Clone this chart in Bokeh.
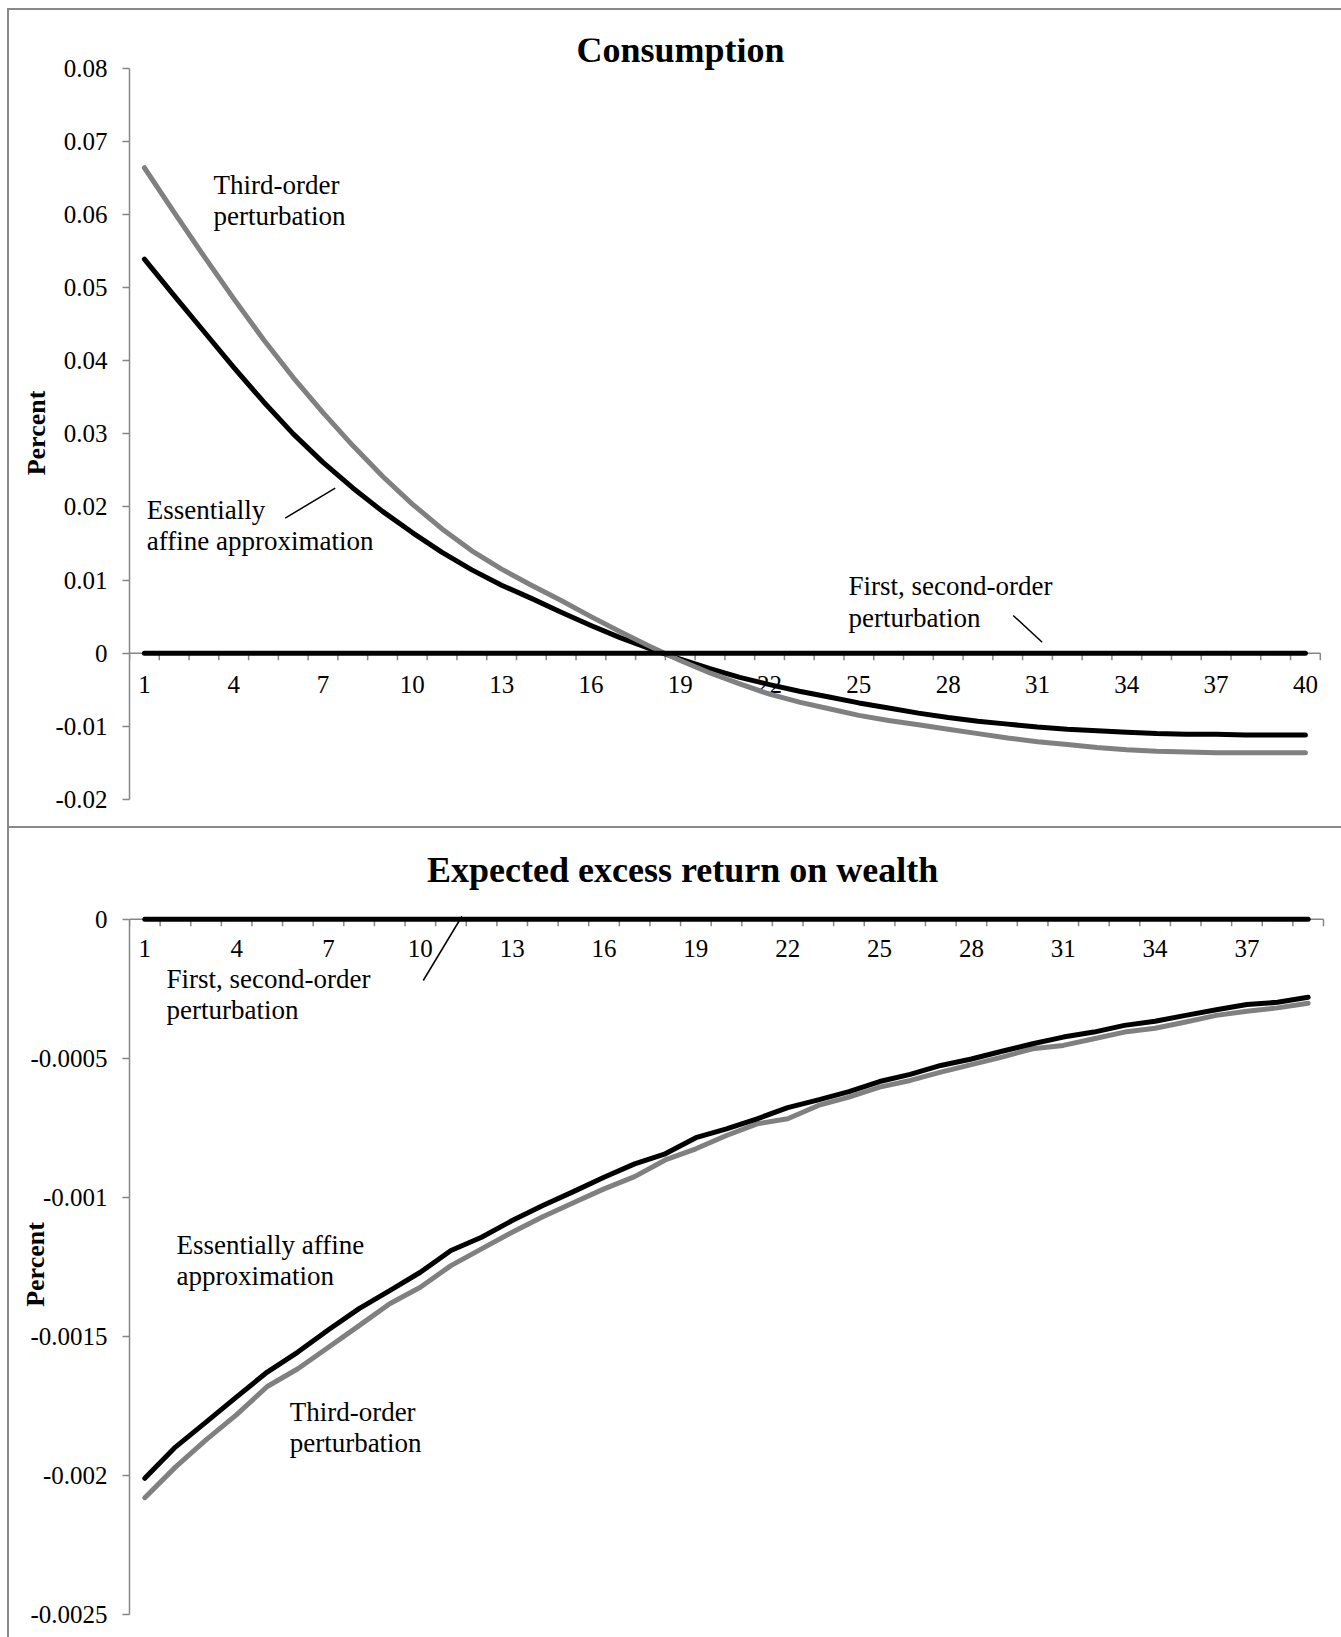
from bokeh.core.properties import value
from bokeh.embed import file_html
from bokeh.layouts import column
from bokeh.models import CustomJSTickFormatter, FixedTicker, Range1d, Title
from bokeh.plotting import figure
from bokeh.resources import INLINE

# ---------------------------------------------------------------------------
# Impulse responses (percent deviation), per period
# ---------------------------------------------------------------------------
periods_consumption = list(range(1, 41))
consumption_affine = [
    0.0539, 0.0489, 0.0440, 0.0391, 0.0344, 0.0300, 0.0261, 0.0226, 0.0194, 0.0165,
    0.0138, 0.0114, 0.0093, 0.0075, 0.0056, 0.0038, 0.0021, 0.0006, -0.0008, -0.0021,
    -0.0033, -0.0043, -0.0052, -0.0060, -0.0068, -0.0075, -0.0082, -0.0088, -0.0093, -0.0097,
    -0.0101, -0.0104, -0.0106, -0.0108, -0.0110, -0.0111, -0.0111, -0.0112, -0.0112, -0.0112,
]
consumption_third = [
    0.0664, 0.0603, 0.0543, 0.0485, 0.0429, 0.0377, 0.0329, 0.0284, 0.0242, 0.0204,
    0.0170, 0.0140, 0.0115, 0.0093, 0.0072, 0.0050, 0.0029, 0.0009, -0.0010, -0.0027,
    -0.0042, -0.0056, -0.0067, -0.0076, -0.0085, -0.0092, -0.0098, -0.0104, -0.0110, -0.0116,
    -0.0121, -0.0125, -0.0129, -0.0132, -0.0134, -0.0135, -0.0136, -0.0136, -0.0136, -0.0136,
]
consumption_first_second = [0.0] * 40

periods_return = list(range(1, 40))
return_affine = [
    -0.002011, -0.001899, -0.001809, -0.001718, -0.001629, -0.001557, -0.001477, -0.001401,
    -0.001336, -0.001270, -0.001192, -0.001144, -0.001084, -0.001030, -0.000980, -0.000928,
    -0.000880, -0.000844, -0.000786, -0.000754, -0.000718, -0.000678, -0.000650, -0.000620,
    -0.000584, -0.000558, -0.000526, -0.000503, -0.000475, -0.000448, -0.000424, -0.000406,
    -0.000382, -0.000367, -0.000346, -0.000326, -0.000307, -0.000299, -0.000281,
]
return_third = [
    -0.002081, -0.001971, -0.001873, -0.001782, -0.001681, -0.001617, -0.001540, -0.001462,
    -0.001383, -0.001324, -0.001246, -0.001186, -0.001126, -0.001070, -0.001020, -0.000970,
    -0.000926, -0.000866, -0.000826, -0.000778, -0.000736, -0.000718, -0.000670, -0.000640,
    -0.000604, -0.000580, -0.000550, -0.000523, -0.000496, -0.000466, -0.000454, -0.000430,
    -0.000406, -0.000392, -0.000370, -0.000346, -0.000331, -0.000319, -0.000302,
]
return_first_second = [0.0] * 39

x_labels_consumption = ["1", "4", "7", "10", "13", "16", "19", "22", "25", "28", "31", "34", "37", "40"]
x_labels_return = ["1", "4", "7", "10", "13", "16", "19", "22", "25", "28", "31", "34", "37"]

y_ticks_consumption = [-0.02, -0.01, 0.0, 0.01, 0.02, 0.03, 0.04, 0.05, 0.06, 0.07, 0.08]
y_labels_consumption = ["-0.02", "-0.01", "0", "0.01", "0.02", "0.03", "0.04", "0.05", "0.06", "0.07", "0.08"]
y_ticks_return = [-0.0025, -0.002, -0.0015, -0.001, -0.0005, 0.0]
y_labels_return = ["-0.0025", "-0.002", "-0.0015", "-0.001", "-0.0005", "0"]

# ---------------------------------------------------------------------------
# Styling
# ---------------------------------------------------------------------------
FONT = "Liberation Serif"
AXIS_GREY = "#868686"
BORDER_GREY = "#898989"
SERIES_GREY = "#808080"
PAGE_W = 1341
PAGE_H = 1637
SPLIT_Y = 827
LINE_W = 5
BASELINE_SHIFT = 0.35  # em fraction to lift text so its baseline lands where asked


class Panel:
    """A chart panel whose category axis crosses the value axis at zero."""

    def __init__(self, height, frame_left, frame_top, cat_px, zero_y, px_per_unit):
        self.height = height
        self.left = frame_left
        self.cat_px = cat_px
        self.zero_y = zero_y
        self.ppu = px_per_unit
        self.p = figure(
            width=PAGE_W, height=height,
            x_range=Range1d(0.5, 0.5 + (PAGE_W - frame_left) / cat_px),
            y_range=Range1d((zero_y - height) / px_per_unit, (zero_y - frame_top) / px_per_unit),
            x_axis_type=None, toolbar_location=None, output_backend="svg",
            min_border_left=frame_left, min_border_right=0,
            min_border_top=frame_top, min_border_bottom=0, title=None,
        )
        p = self.p
        p.outline_line_color = None
        p.background_fill_color = None
        p.border_fill_color = None
        p.ygrid.grid_line_color = None

    # pixel position inside the canvas -> data coordinates
    def cx(self, px):
        return (px - self.left) / self.cat_px + 0.5

    def vy(self, py):
        return (self.zero_y - py) / self.ppu

    def value_axis(self, ticks, labels, title_standoff):
        ax = self.p.yaxis[0]
        ax.ticker = FixedTicker(ticks=ticks)
        ax.formatter = CustomJSTickFormatter(
            args=dict(vals=ticks, labs=labels),
            code="""
                let best = 0, bd = Infinity;
                for (let i = 0; i < vals.length; i++) {
                    const d = Math.abs(vals[i] - tick);
                    if (d < bd) { bd = d; best = i; }
                }
                return labs[best];
            """,
        )
        ax.bounds = (ticks[0], ticks[-1])
        ax.axis_line_color = AXIS_GREY
        ax.axis_line_width = 1.5
        ax.major_tick_line_color = AXIS_GREY
        ax.major_tick_line_width = 1.5
        ax.major_tick_out = 7
        ax.major_tick_in = 0
        ax.minor_tick_line_color = None
        ax.major_label_text_font = FONT
        ax.major_label_text_font_size = "25px"
        ax.major_label_text_color = "black"
        ax.major_label_standoff = 15
        ax.axis_label = "Percent"
        ax.axis_label_text_font = FONT
        ax.axis_label_text_font_style = "bold"
        ax.axis_label_text_font_size = "26px"
        ax.axis_label_text_color = "black"
        ax.axis_label_standoff = title_standoff

    def category_axis(self, n_cats, labels, baseline_gap_px):
        p = self.p
        edges = [k + 0.5 for k in range(n_cats + 1)]
        tick_len = 7 / self.ppu
        p.segment(x0=[edges[0]], y0=[0], x1=[edges[-1]], y1=[0],
                  line_color=AXIS_GREY, line_width=1.5)
        p.segment(x0=edges, y0=[0] * len(edges), x1=edges, y1=[-tick_len] * len(edges),
                  line_color=AXIS_GREY, line_width=1.5)
        gap = baseline_gap_px - BASELINE_SHIFT * 25
        p.text(x=[int(s) for s in labels], y=[-gap / self.ppu] * len(labels),
               text=labels, text_font=value(FONT), text_font_size=value("25px"),
               text_color="black", text_align="center", text_baseline="alphabetic")

    def series(self, x, y, color):
        self.p.line(x, y, line_color=color, line_width=LINE_W,
                    line_join="round", line_cap="round")

    def note(self, px, lines, baselines, size=27, style="normal", align="left"):
        lift = BASELINE_SHIFT * size
        self.p.text(x=[self.cx(px)] * len(lines), y=[self.vy(b - lift) for b in baselines],
                    text=lines, text_font=value(FONT), text_font_size=value(f"{size}px"),
                    text_font_style=style, text_color="black",
                    text_align=align, text_baseline="alphabetic")

    def heading(self, text, left_px, standoff):
        # chart heading set in the band above the plotting frame
        self.p.add_layout(Title(text=text, align="left", offset=left_px - self.left,
                                standoff=standoff, text_font=FONT, text_font_size="36px",
                                text_font_style="bold", text_color="black"), "above")

    def leader(self, x0, y0, x1, y1):
        self.p.segment(x0=[self.cx(x0)], y0=[self.vy(y0)], x1=[self.cx(x1)], y1=[self.vy(y1)],
                       line_color="black", line_width=1.5)


# ---------------------------------------------------------------------------
# Consumption
# ---------------------------------------------------------------------------
top = Panel(height=SPLIT_Y, frame_left=129, frame_top=38,
            cat_px=29.77, zero_y=652.7, px_per_unit=7311)
top.value_axis(y_ticks_consumption, y_labels_consumption, 1)
top.category_axis(len(periods_consumption), x_labels_consumption, 40)
top.series(periods_consumption, consumption_affine, "black")
top.series(periods_consumption, consumption_third, SERIES_GREY)
top.series(periods_consumption, consumption_first_second, "black")
top.note(680, ["Consumption"], [62], size=36, style="bold", align="center")
top.note(213, ["Third-order", "perturbation"], [194, 225])
top.note(146.3, ["Essentially", "affine approximation"], [518.7, 550.4])
top.leader(284.7, 517.6, 334.7, 487.7)
top.note(848, ["First, second-order", "perturbation"], [595, 626.7])
top.leader(1012.7, 615, 1041.7, 641.7)

# ---------------------------------------------------------------------------
# Expected excess return on wealth
# ---------------------------------------------------------------------------
bot = Panel(height=PAGE_H - SPLIT_Y, frame_left=128, frame_top=64,
            cat_px=30.64, zero_y=91.7, px_per_unit=278000)
bot.value_axis(y_ticks_return, y_labels_return, -23)
bot.heading("Expected excess return on wealth", 425.5, 4)
bot.category_axis(len(periods_return), x_labels_return, 38)
bot.series(periods_return, return_third, SERIES_GREY)
bot.series(periods_return, return_affine, "black")
bot.series(periods_return, return_first_second, "black")
bot.note(165, ["First, second-order", "perturbation"], [161, 192])
bot.leader(422, 153, 460.6, 89)
bot.note(175, ["Essentially affine", "approximation"], [427, 458])
bot.note(288.3, ["Third-order", "perturbation"], [593.7, 624.7])

# Chart-area frame: left edge, top edge and the rule between the two panels.
rule = f"linear-gradient({BORDER_GREY}, {BORDER_GREY})"
frame_styles = {
    "background-color": "white",
    "background-image": ", ".join([rule, rule, rule]),
    "background-size": f"2px {PAGE_H}px, {PAGE_W}px 2px, {PAGE_W}px 2px",
    "background-position": f"7px 8px, 7px 8px, 7px {SPLIT_Y - 1}px",
    "background-repeat": "no-repeat",
}

layout = column(top.p, bot.p, spacing=0, styles=frame_styles)

with open("out.html", "w") as f:
    f.write(file_html(layout, INLINE))
